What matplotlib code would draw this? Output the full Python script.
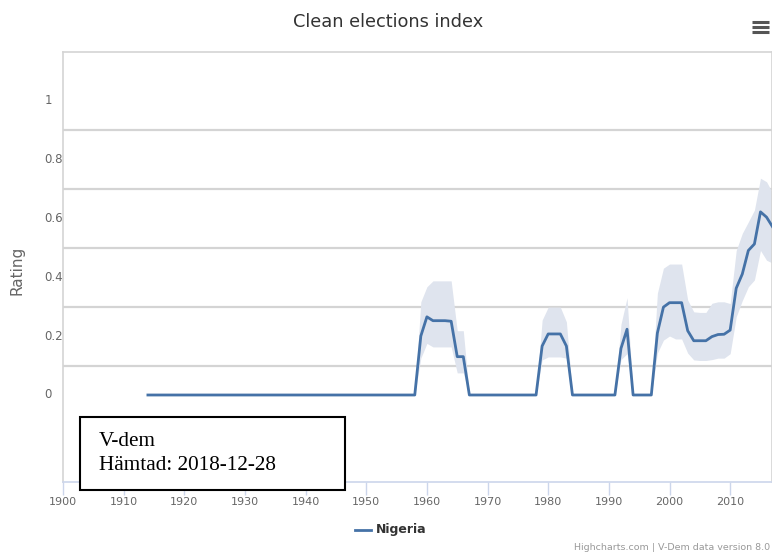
import matplotlib.pyplot as plt
from matplotlib.patches import Rectangle
from matplotlib.lines import Line2D

# data
years = list(range(1914, 2018))

rating = ([0.0] * 45
          + [0.20, 0.265, 0.252, 0.252, 0.252, 0.25, 0.13, 0.13]
          + [0.0] * 12
          + [0.166, 0.207, 0.207, 0.207, 0.166]
          + [0.0] * 8
          + [0.158, 0.223]
          + [0.0] * 4
          + [0.21, 0.298, 0.313, 0.313, 0.313, 0.218, 0.184, 0.184, 0.184, 0.198,
             0.205, 0.206, 0.22, 0.362, 0.41, 0.49, 0.512, 0.621, 0.603, 0.57])

upper = ([0.0] * 45
         + [0.316, 0.367, 0.387, 0.387, 0.387, 0.387, 0.218, 0.218]
         + [0.0] * 12
         + [0.254, 0.298, 0.298, 0.298, 0.248]
         + [0.0] * 8
         + [0.24, 0.33]
         + [0.0] * 4
         + [0.345, 0.43, 0.444, 0.444, 0.444, 0.322, 0.282, 0.28, 0.28, 0.311,
            0.316, 0.316, 0.31, 0.49, 0.548, 0.587, 0.627, 0.735, 0.723, 0.685])

lower = ([0.0] * 45
         + [0.125, 0.175, 0.163, 0.163, 0.163, 0.163, 0.075, 0.075]
         + [0.0] * 12
         + [0.119, 0.129, 0.129, 0.129, 0.125]
         + [0.0] * 8
         + [0.12, 0.14]
         + [0.0] * 4
         + [0.142, 0.186, 0.2, 0.19, 0.19, 0.142, 0.119, 0.117, 0.117, 0.12,
            0.125, 0.125, 0.14, 0.265, 0.32, 0.367, 0.39, 0.49, 0.457, 0.447])

y_labels = [0, 0.2, 0.4, 0.6, 0.8, 1]
grid_levels = [0.1, 0.3, 0.5, 0.7, 0.9]
x_ticks = list(range(1900, 2020, 10))

line_color = '#4572a7'
band_color = '#dfe4ee'

W, H = 772, 553
fig = plt.figure(figsize=(W / 100, H / 100), dpi=100)
ax = fig.add_axes([63 / W, 1 - 482 / H, 709 / W, 430 / H])

ax.set_xlim(1900, 2016.9)
ax.set_ylim(-0.295, 1.163)

# gridlines sit between the labels in the original
for g in grid_levels:
    ax.axhline(g, color='#d4d4d4', lw=1.6, zorder=1)

ax.fill_between(years, lower, upper, color=band_color, lw=0, zorder=2)
ax.plot(years, rating, color=line_color, lw=2.0, zorder=3)

# axes styling
for side in ['left', 'top', 'right']:
    ax.spines[side].set_color('#d4d4d4')
    ax.spines[side].set_linewidth(1.2)
ax.spines['bottom'].set_color('#ccd6eb')
ax.spines['bottom'].set_linewidth(1.2)

ax.set_yticks([])
for v in y_labels:
    ax.text(-0.026, v, str(v), transform=ax.get_yaxis_transform(),
            ha='left', va='center', fontsize=8.5, color='#666666')

ax.set_xticks(x_ticks)
ax.set_xticklabels([str(x) for x in x_ticks], fontsize=8, color='#666666')
ax.tick_params(axis='x', length=9, width=1, color='#ccd6eb', pad=2)

fig.text(17 / W, 1 - 270 / H, 'Rating', rotation=90, ha='center', va='center',
         fontsize=11, color='#666666')

# title and menu icon
fig.text(388 / W, 1 - 22 / H, 'Clean elections index', ha='center', va='center',
         fontsize=12.8, color='#333333')
for yy in [22, 27, 32]:
    fig.add_artist(Line2D([752 / W, 769 / W], [1 - yy / H, 1 - yy / H],
                          color='#555555', lw=2.2, solid_capstyle='butt'))

# legend
fig.add_artist(Line2D([355 / W, 371 / W], [1 - 530 / H, 1 - 530 / H],
                      color=line_color, lw=2))
fig.text(376 / W, 1 - 530 / H, 'Nigeria', ha='left', va='center',
         fontsize=9, fontweight='bold', color='#333333')

fig.text(770 / W, 1 - 548 / H, 'Highcharts.com | V-Dem data version 8.0',
         ha='right', va='center', fontsize=6.8, color='#999999')

# source box
box = Rectangle((80 / W, 1 - 490 / H), 265 / W, 73 / H, transform=fig.transFigure,
                facecolor='white', edgecolor='black', lw=1.5, zorder=10)
fig.add_artist(box)
fig.text(99 / W, 1 - 441 / H, 'V-dem', ha='left', va='center', fontsize=15.3,
         family='Liberation Serif', color='black', zorder=11)
fig.text(99 / W, 1 - 466 / H, 'Hämtad: 2018-12-28', ha='left', va='center',
         fontsize=15.3, family='Liberation Serif', color='black', zorder=11)

fig.savefig('out.png', dpi=100)
